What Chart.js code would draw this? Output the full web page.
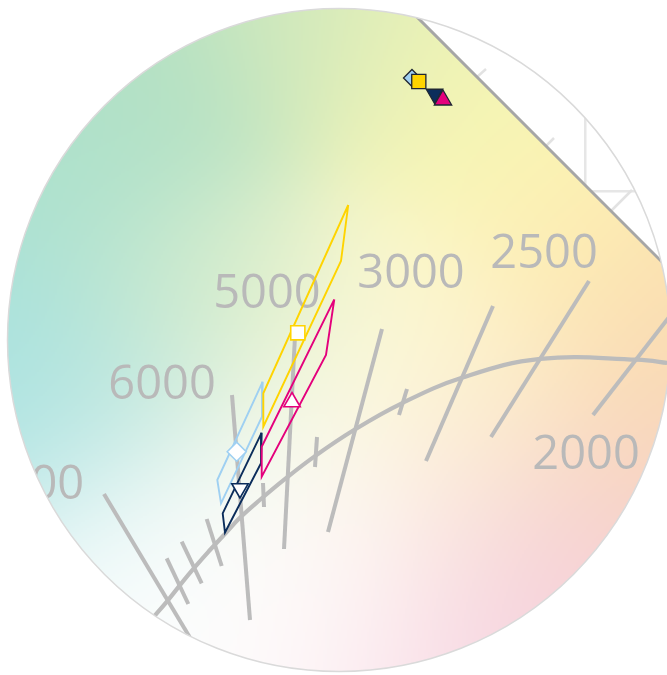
<!DOCTYPE html>
<html>
<head>
<meta charset="utf-8">
<script src="https://cdn.jsdelivr.net/npm/chart.js@4.4.1/dist/chart.umd.min.js"></script>
<style>
  html, body { margin: 0; padding: 0; background: #ffffff; }
  #wrap { width: 667px; height: 675px; position: relative; }
</style>
</head>
<body>
<div id="wrap"><canvas id="cie"></canvas></div>
<script>
// ---- CIE 1931 (x, y) window of the diagram ----
const xRange = [0.198454, 0.542268];
const yRange = [0.250773, 0.598711];
const viewCenter = [0.37320, 0.42345];   // centre of the round viewport
const viewRadius = 0.17088;              // radius in x units

// ---- Planckian locus ----
const locusX = [0.2758, 0.2851, 0.2954, 0.3062, 0.3134, 0.3221, 0.3325, 0.3451, 0.3608, 0.3805, 0.4053, 0.4369, 0.4770, 0.5267, 0.5423, 0.5593];
const locusY = [0.2786, 0.2894, 0.3023, 0.3147, 0.3224, 0.3318, 0.3411, 0.3516, 0.3636, 0.3768, 0.3907, 0.4041, 0.4137, 0.4133, 0.4116, 0.4090];

// ---- isotemperature lines (K) : start / end points ----
const isoCCT = [2000, 2500, 3000, 3500, 4000, 4500, 5000, 5500, 6000, 7000, 8000, 9000, 10000];
const isoX1 = [0.50412, 0.45155, 0.41804, 0.40412, 0.39536, 0.36186, 0.35052, 0.33402, 0.31804, 0.30500, 0.29211, 0.28438, 0.25206];
const isoY1 = [0.38479, 0.37345, 0.36108, 0.38479, 0.42912, 0.37345, 0.42552, 0.34974, 0.39510, 0.33119, 0.31948, 0.31093, 0.34407];
const isoX2 = [0.54897, 0.50206, 0.45258, 0.40825, 0.36753, 0.36082, 0.34485, 0.33454, 0.32732, 0.31273, 0.30242, 0.29552, 0.29897];
const isoY2 = [0.44253, 0.45387, 0.44098, 0.39820, 0.32448, 0.35799, 0.31572, 0.33737, 0.27912, 0.30696, 0.29804, 0.28737, 0.26572];

// ---- temperature captions ----
const tempLabels = ['2000', '2500', '3000', '5000', '6000', '10000'];
const tempLabelX = [0.50052, 0.47887, 0.41031, 0.33608, 0.28196, 0.20722];
const tempLabelY = [0.36572, 0.46933, 0.45902, 0.44871, 0.40180, 0.35000];

// ---- spectral locus edge and wavelength ticks (570, 575, 580 nm) ----
const spectralX = [0.39433, 0.56959];
const spectralY = [0.60902, 0.43376];
const nmTickX1 = [0.44433, 0.47990, 0.51340];
const nmTickY1 = [0.55902, 0.52345, 0.48995];
const nmTickX2 = [0.44897, 0.48402, 0.52423];
const nmTickY2 = [0.56314, 0.52758, 0.50077];

// ---- chromaticity bins (closed quadrilaterals) ----
const goldBinX = [0.37796, 0.37423, 0.33418, 0.33418, 0.37796];
const goldBinY = [0.49304, 0.46418, 0.37876, 0.39598, 0.49304];
const roseBinX = [0.37077, 0.36649, 0.33335, 0.33335, 0.37077];
const roseBinY = [0.44443, 0.41572, 0.35299, 0.36845, 0.44443];
const skyBinX  = [0.33387, 0.33351, 0.31237, 0.31046, 0.33387];
const skyBinY  = [0.40196, 0.38392, 0.33928, 0.35129, 0.40196];
const navyBinX = [0.33335, 0.33299, 0.31443, 0.31325, 0.33335];
const navyBinY = [0.37567, 0.35990, 0.32423, 0.33412, 0.37567];

// ---- bin centres ----
const goldCentre = [0.35196, 0.42716];
const roseCentre = [0.34897, 0.39149];
const skyCentre  = [0.32046, 0.36588];
const navyCentre = [0.32216, 0.34691];

// ---- points next to the spectral locus ----
const skyPoint  = [0.41082, 0.55851];
const goldPoint = [0.41433, 0.55670];
const navyPoint = [0.42242, 0.55026];
const rosePoint = [0.42680, 0.54716];

// ---- colours ----
const GOLD = '#ffd400', ROSE = '#e4007c', SKY = '#9fd0f2', NAVY = '#0b2d5b';
const GREY = '#bcbcbc';

// soft colour field of the diagram: [x%, y%, r, g, b] across the plot area
const tintAnchors = [
  // cyan / teal side
  [2.2, 50.4, 166, 225, 222], [6.0, 63.7, 175, 228, 228], [9.0, 28.1, 172, 225, 205],
  [15.0, 77.0, 215, 240, 242], [19.5, 62.2, 190, 230, 222], [18.0, 90.4, 245, 252, 252],
  // green / yellow top
  [24.0, 13.3, 178, 224, 196], [45.0, 4.4, 208, 232, 188], [63.0, 8.9, 235, 242, 182],
  [72.0, 19.3, 250, 246, 178], [84.0, 35.6, 253, 238, 178],
  // orange / pink right
  [97.5, 48.9, 250, 220, 176], [97.5, 66.7, 248, 212, 186], [90.0, 80.0, 246, 210, 205],
  [85.5, 88.9, 245, 206, 222], [72.0, 94.8, 247, 214, 228], [57.0, 97.8, 250, 228, 236],
  // pale bottom centre
  [45.0, 94.8, 253, 243, 246], [33.0, 94.8, 255, 253, 253], [27.0, 84.4, 255, 255, 255],
  [30.0, 93.3, 255, 255, 255], [22.5, 87.4, 252, 254, 254],
  [39.0, 83.0, 255, 254, 251], [49.5, 83.0, 253, 246, 244],
  // middle
  [49.5, 62.2, 253, 250, 228], [37.5, 44.4, 226, 240, 200], [24.0, 43.0, 196, 231, 208],
  [60.0, 44.4, 252, 248, 210], [75.0, 59.3, 252, 238, 205], [67.5, 77.0, 250, 232, 222],
  [36.0, 68.1, 244, 248, 234]
];
const tintSigma = 0.12; // fraction of plot width

const pts = (xs, ys) => xs.map((v, i) => ({ x: v, y: ys[i] }));

function buildShade(w, h) {
  const sw = Math.ceil(w / 2), sh = Math.ceil(h / 2);
  const c = document.createElement('canvas');
  c.width = sw; c.height = sh;
  const g = c.getContext('2d');
  const img = g.createImageData(sw, sh);
  const d = img.data;
  const an = tintAnchors.map(a => [a[0] / 100 * sw, a[1] / 100 * sh, a[2], a[3], a[4]]);
  const s = tintSigma * sw;
  const s2 = 2 * s * s;
  for (let j = 0; j < sh; j++) {
    for (let i = 0; i < sw; i++) {
      let ws = 0, r = 0, gg = 0, b = 0;
      for (const p of an) {
        const dx = i - p[0], dy = j - p[1];
        const wt = Math.exp(-(dx * dx + dy * dy) / s2) + 1e-30;
        ws += wt; r += wt * p[2]; gg += wt * p[3]; b += wt * p[4];
      }
      const k = (j * sw + i) * 4;
      d[k] = r / ws; d[k + 1] = gg / ws; d[k + 2] = b / ws; d[k + 3] = 255;
    }
  }
  g.putImageData(img, 0, 0);
  return c;
}

function circleGeom(chart) {
  const { x, y } = chart.scales;
  const cx = x.getPixelForValue(viewCenter[0]);
  const cy = y.getPixelForValue(viewCenter[1]);
  const r = x.getPixelForValue(viewCenter[0] + viewRadius) - cx;
  return { cx, cy, r };
}

const diagramPlugin = {
  id: 'diagram',
  beforeDatasetsDraw(chart) {
    const { ctx, chartArea: a, scales: { x, y } } = chart;
    const { cx, cy, r } = circleGeom(chart);
    if (!chart.$shade) chart.$shade = buildShade(a.width, a.height);

    // gamut interior (below the spectral locus), inside the round viewport
    const p1 = [x.getPixelForValue(spectralX[0]), y.getPixelForValue(spectralY[0])];
    const p2 = [x.getPixelForValue(spectralX[1]), y.getPixelForValue(spectralY[1])];
    const dx = p2[0] - p1[0], dy = p2[1] - p1[1];
    const A = [p1[0] - dx * 5, p1[1] - dy * 5];
    const B = [p2[0] + dx * 5, p2[1] + dy * 5];
    ctx.save();
    ctx.beginPath();
    ctx.arc(cx, cy, r, 0, Math.PI * 2);
    ctx.clip();
    ctx.beginPath();
    ctx.moveTo(A[0], A[1]);
    ctx.lineTo(B[0], B[1]);
    ctx.lineTo(B[0] - 5000, B[1] + 5000);
    ctx.lineTo(A[0] - 5000, A[1] + 5000);
    ctx.closePath();
    ctx.clip();
    ctx.imageSmoothingEnabled = true;
    ctx.drawImage(chart.$shade, a.left, a.top, a.width, a.height);
    ctx.restore();

    // temperature captions
    ctx.save();
    ctx.beginPath();
    ctx.arc(cx, cy, r, 0, Math.PI * 2);
    ctx.clip();
    const fs = 47;
    ctx.font = '400 ' + fs + 'px "Open Sans", "Noto Sans", sans-serif';
    ctx.fillStyle = '#b9b9b9';
    ctx.textAlign = 'center';
    ctx.textBaseline = 'alphabetic';
    tempLabels.forEach((t, i) => {
      const px = x.getPixelForValue(tempLabelX[i]);
      const py = y.getPixelForValue(tempLabelY[i]);
      ctx.fillText(t, px, py + 0.357 * fs);
    });
    ctx.restore();
  },
  afterDraw(chart) {
    const { ctx } = chart;
    const { cx, cy, r } = circleGeom(chart);
    ctx.save();
    ctx.beginPath();
    ctx.rect(-10, -10, chart.width + 20, chart.height + 20);
    ctx.arc(cx, cy, r, 0, Math.PI * 2, true);
    ctx.fillStyle = '#ffffff';
    ctx.fill('evenodd');
    ctx.beginPath();
    ctx.arc(cx, cy, r, 0, Math.PI * 2);
    ctx.strokeStyle = '#dadada';
    ctx.lineWidth = 1.5;
    ctx.stroke();
    ctx.restore();
  }
};

const datasets = [];

// markers near the spectral locus (lower order = drawn on top)
function marker(p, style, rot, fill, border, bw, radius, order) {
  return {
    data: [{ x: p[0], y: p[1] }], showLine: false,
    pointStyle: style, pointRotation: rot, pointRadius: radius,
    pointBackgroundColor: fill, pointBorderColor: border, pointBorderWidth: bw,
    order
  };
}
const edge = '#1f2633';
datasets.push(marker(rosePoint, 'triangle', 0, ROSE, edge, 1.3, 10, 0));
datasets.push(marker(navyPoint, 'triangle', 180, NAVY, edge, 1.3, 9.5, 1));
datasets.push(marker(goldPoint, 'rect', 0, GOLD, edge, 1.3, 10, 2));
datasets.push(marker(skyPoint, 'rectRot', 0, SKY, edge, 1.3, 8.5, 3));

// bin centres
datasets.push(marker(goldCentre, 'rect', 0, '#ffffff', GOLD, 1.6, 10, 4));
datasets.push(marker(roseCentre, 'triangle', 0, '#ffffff', ROSE, 1.6, 9.5, 5));
datasets.push(marker(navyCentre, 'triangle', 180, '#ffffff', NAVY, 1.6, 9.5, 6));
datasets.push(marker(skyCentre, 'rectRot', 0, '#ffffff', SKY, 1.6, 9.5, 7));

// bins
function outline(xs, ys, color, order) {
  return {
    data: pts(xs, ys), showLine: true, fill: false, tension: 0,
    borderColor: color, borderWidth: 1.9, pointRadius: 0, borderJoinStyle: 'miter', order
  };
}
datasets.push(outline(goldBinX, goldBinY, GOLD, 8));
datasets.push(outline(roseBinX, roseBinY, ROSE, 9));
datasets.push(outline(navyBinX, navyBinY, NAVY, 10));
datasets.push(outline(skyBinX, skyBinY, SKY, 11));

// Planckian locus
datasets.push({
  data: pts(locusX, locusY), showLine: true, fill: false,
  tension: 0.4,
  borderColor: GREY, borderWidth: 4.2, pointRadius: 0, order: 20
});

// isotemperature lines
isoCCT.forEach((t, i) => {
  datasets.push({
    data: [{ x: isoX1[i], y: isoY1[i] }, { x: isoX2[i], y: isoY2[i] }],
    showLine: true, fill: false, borderColor: GREY, borderWidth: 4,
    borderCapStyle: 'butt', pointRadius: 0, order: 21
  });
});

// spectral locus edge
datasets.push({
  data: pts(spectralX, spectralY), showLine: true, fill: false,
  borderColor: '#a6a6a6', borderWidth: 3, pointRadius: 0, order: 30
});
// wavelength ticks
nmTickX1.forEach((v, i) => {
  datasets.push({
    data: [{ x: nmTickX1[i], y: nmTickY1[i] }, { x: nmTickX2[i], y: nmTickY2[i] }],
    showLine: true, fill: false, borderColor: '#e2e2e2', borderWidth: 2.5,
    pointRadius: 0, order: 31
  });
});

const axisCommon = {
  type: 'linear',
  display: true,
  ticks: { display: false, stepSize: 0.1, includeBounds: false },
  grid: { display: true, drawTicks: false, color: '#e6e6e6', lineWidth: 2.5 },
  border: { display: false },
  title: { display: false }
};

new Chart(document.getElementById('cie'), {
  type: 'scatter',
  data: { datasets },
  options: {
    responsive: true,
    maintainAspectRatio: false,
    devicePixelRatio: 1,
    animation: false,
    layout: { padding: 0, autoPadding: false },
    plugins: { legend: { display: false }, tooltip: { enabled: false } },
    events: [],
    scales: {
      x: Object.assign({}, axisCommon, { min: xRange[0], max: xRange[1] }),
      y: Object.assign({}, axisCommon, { min: yRange[0], max: yRange[1] })
    }
  },
  plugins: [diagramPlugin]
});
</script>
</body>
</html>
